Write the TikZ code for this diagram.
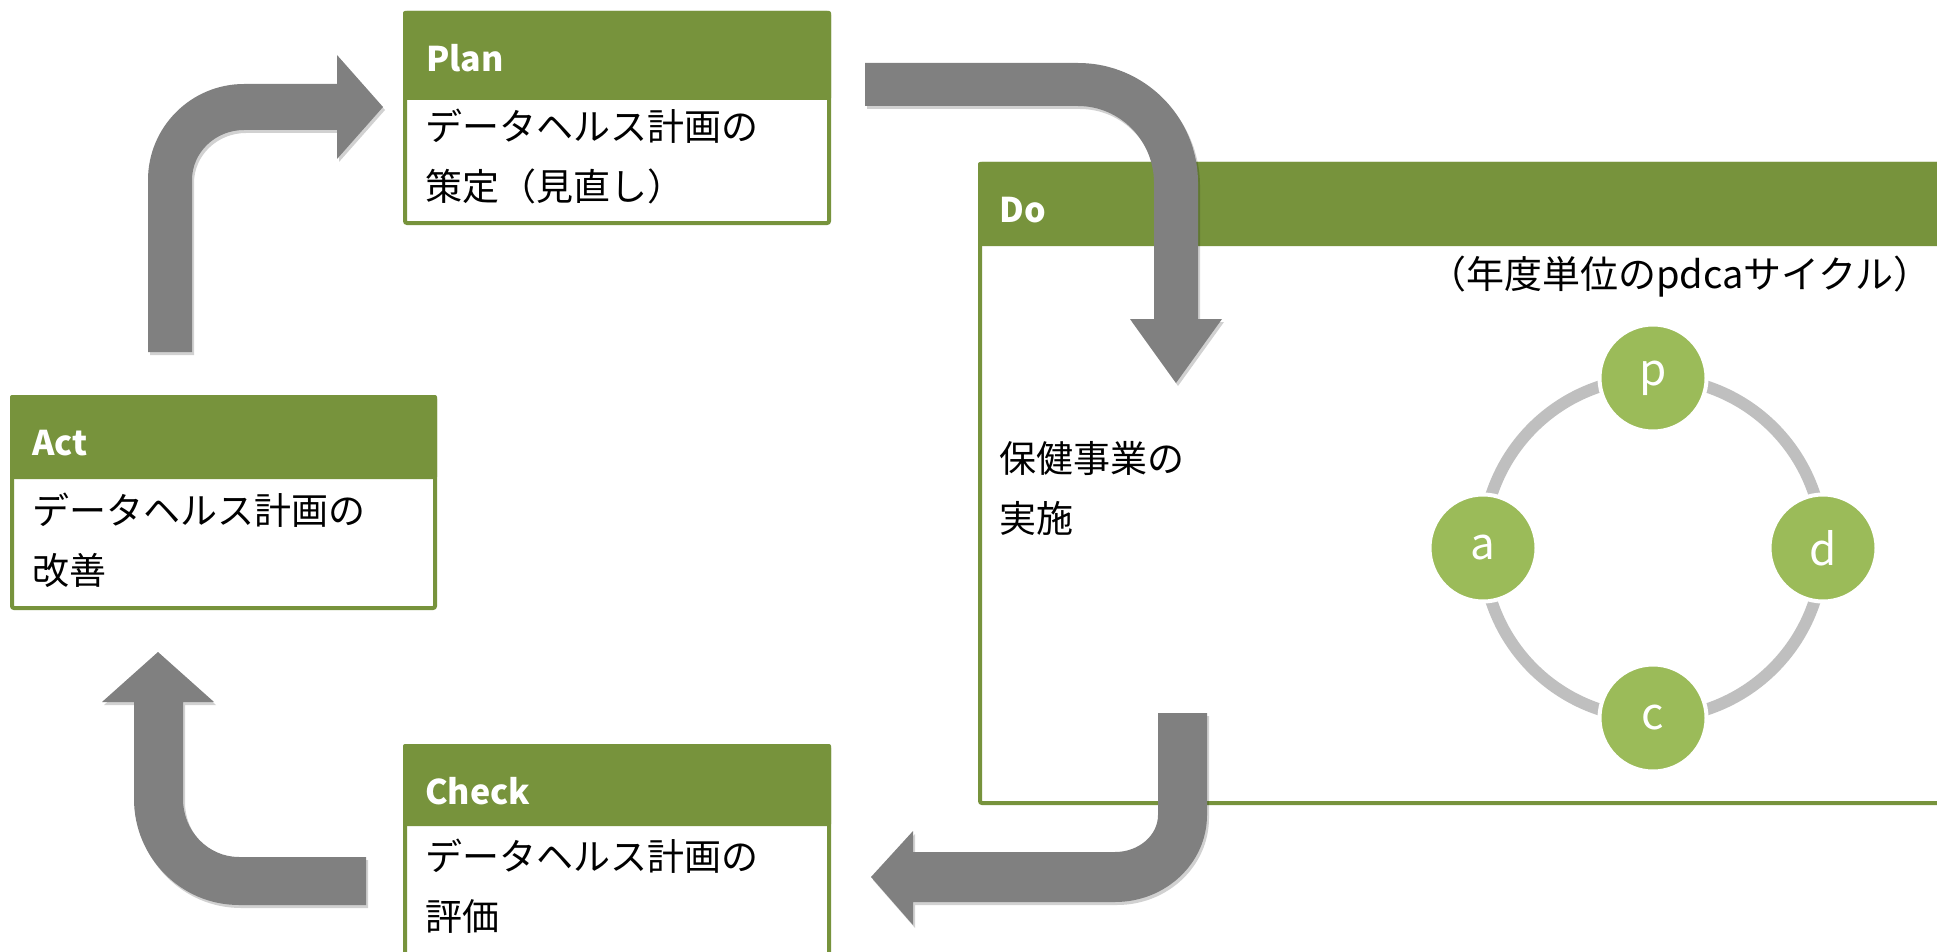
\documentclass[tikz,border=0pt]{standalone}
\usepackage{fontspec}
\setmainfont{Noto Sans CJK JP}
\usetikzlibrary{shadows}
\definecolor{hdr}{HTML}{77933C}
\definecolor{nodegreen}{HTML}{9BBB59}
\definecolor{arrowgray}{HTML}{808080}
\definecolor{ringgray}{HTML}{BFBFBF}
\begin{document}
\begin{tikzpicture}[x=1pt,y=-1pt,
  bentarrow/.style={fill=arrowgray, drop shadow={shadow xshift=2pt, shadow yshift=-3pt, opacity=0.18, fill=black}},
  boxframe/.style={draw=hdr, line width=4pt, fill=white, rounded corners=2pt},
  boxhead/.style={fill=hdr, rounded corners=2pt},
  title/.style={anchor=west, inner sep=0pt, text=white, font=\fontsize{34}{40}\selectfont\bfseries},
  body/.style={anchor=west, inner sep=0pt, align=left, font=\fontsize{37}{60}\selectfont},
  ringline/.style={draw=ringgray, line width=12pt},
  cyc/.style={circle, fill=nodegreen, draw=white, line width=4pt, minimum size=107pt, inner sep=0pt, text=white, font=\fontsize{44}{44}\selectfont},
]
\useasboundingbox (0,0) rectangle (1937,952);
\clip (0,0) rectangle (1937,952);
\fill[white] (0,0) rectangle (1937,952);

% Do box
\draw[boxframe] (980,164) rectangle (1960,803);
\fill[boxhead] (978,162) rectangle (1962,246);
\node[title] (dot) at (999,210) {Do};
\node[body] (dob) at (999,488) {保健事業の\\実施};
\node[body, anchor=center, font=\fontsize{38}{44}\selectfont] (sub) at (1680,277) {（年度単位のpdcaサイクル）};

% cycle ring
\coordinate (pc) at (1653,378);
\coordinate (dc) at (1823,548);
\coordinate (cc) at (1653,718);
\coordinate (ac) at (1483,548);
\draw[ringline] (pc) to[bend left=45] (dc);
\draw[ringline] (dc) to[bend left=45] (cc);
\draw[ringline] (cc) to[bend left=45] (ac);
\draw[ringline] (ac) to[bend left=45] (pc);
\node[cyc] (p) at (pc) {p};
\node[cyc] (d) at (dc) {d};
\node[cyc] (c) at (cc) {c};
\node[cyc] (a) at (ac) {a};

% Plan box
\draw[boxframe] (405,13) rectangle (829,223);
\fill[boxhead] (403,11) rectangle (831,100);
\node[title] (plant) at (426,58) {Plan};
\node[body] (planb) at (425,157) {データヘルス計画の\\策定（見直し）};

% Act box
\draw[boxframe] (12,397) rectangle (435,608);
\fill[boxhead] (10,395) rectangle (437,479);
\node[title] (actt) at (32,443) {Act};
\node[body] (actb) at (32,540) {データヘルス計画の\\改善};

% Check box
\draw[boxframe] (405,746) rectangle (829,990);
\fill[boxhead] (403,744) rectangle (831,826);
\node[title] (checkt) at (425,791) {Check};
\node[body] (checkb) at (425,886) {データヘルス計画の\\評価};

% Act -> Plan
\path[bentarrow] (148,352) -- (148,180) .. controls (148,127) and (191,84) .. (244,84)
  -- (337,84) -- (337,55) -- (383,107) -- (337,159) -- (337,130) -- (244,130)
  .. controls (215.3,130) and (192,152.4) .. (192,180) -- (192,352) -- cycle;

% Plan -> Do
\path[bentarrow] (865,63) -- (1078,63) .. controls (1144.3,63) and (1198,116.7) .. (1198,183)
  -- (1198,319) -- (1222,319) -- (1176,383) -- (1130,319) -- (1154,319) -- (1154,183)
  .. controls (1154,140.5) and (1120,106) .. (1078,106) -- (865,106) -- cycle;

% Do -> Check
\path[bentarrow] (1158,713) -- (1207,713) -- (1207,815) .. controls (1207,863.1) and (1165.8,902) .. (1115,902)
  -- (913,902) -- (913,925) -- (871,877) -- (913,831) -- (913,852) -- (1115,852)
  .. controls (1138.7,852) and (1158,835.4) .. (1158,815) -- cycle;

% Check -> Act
\path[bentarrow] (366,857) -- (366,905) -- (239,905) .. controls (181,905) and (134,857.5) .. (134,799)
  -- (134,702) -- (102,702) -- (158,652) -- (214,702) -- (183,702) -- (183,799)
  .. controls (183,831) and (208.1,857) .. (239,857) -- cycle;
\end{tikzpicture}
\end{document}
